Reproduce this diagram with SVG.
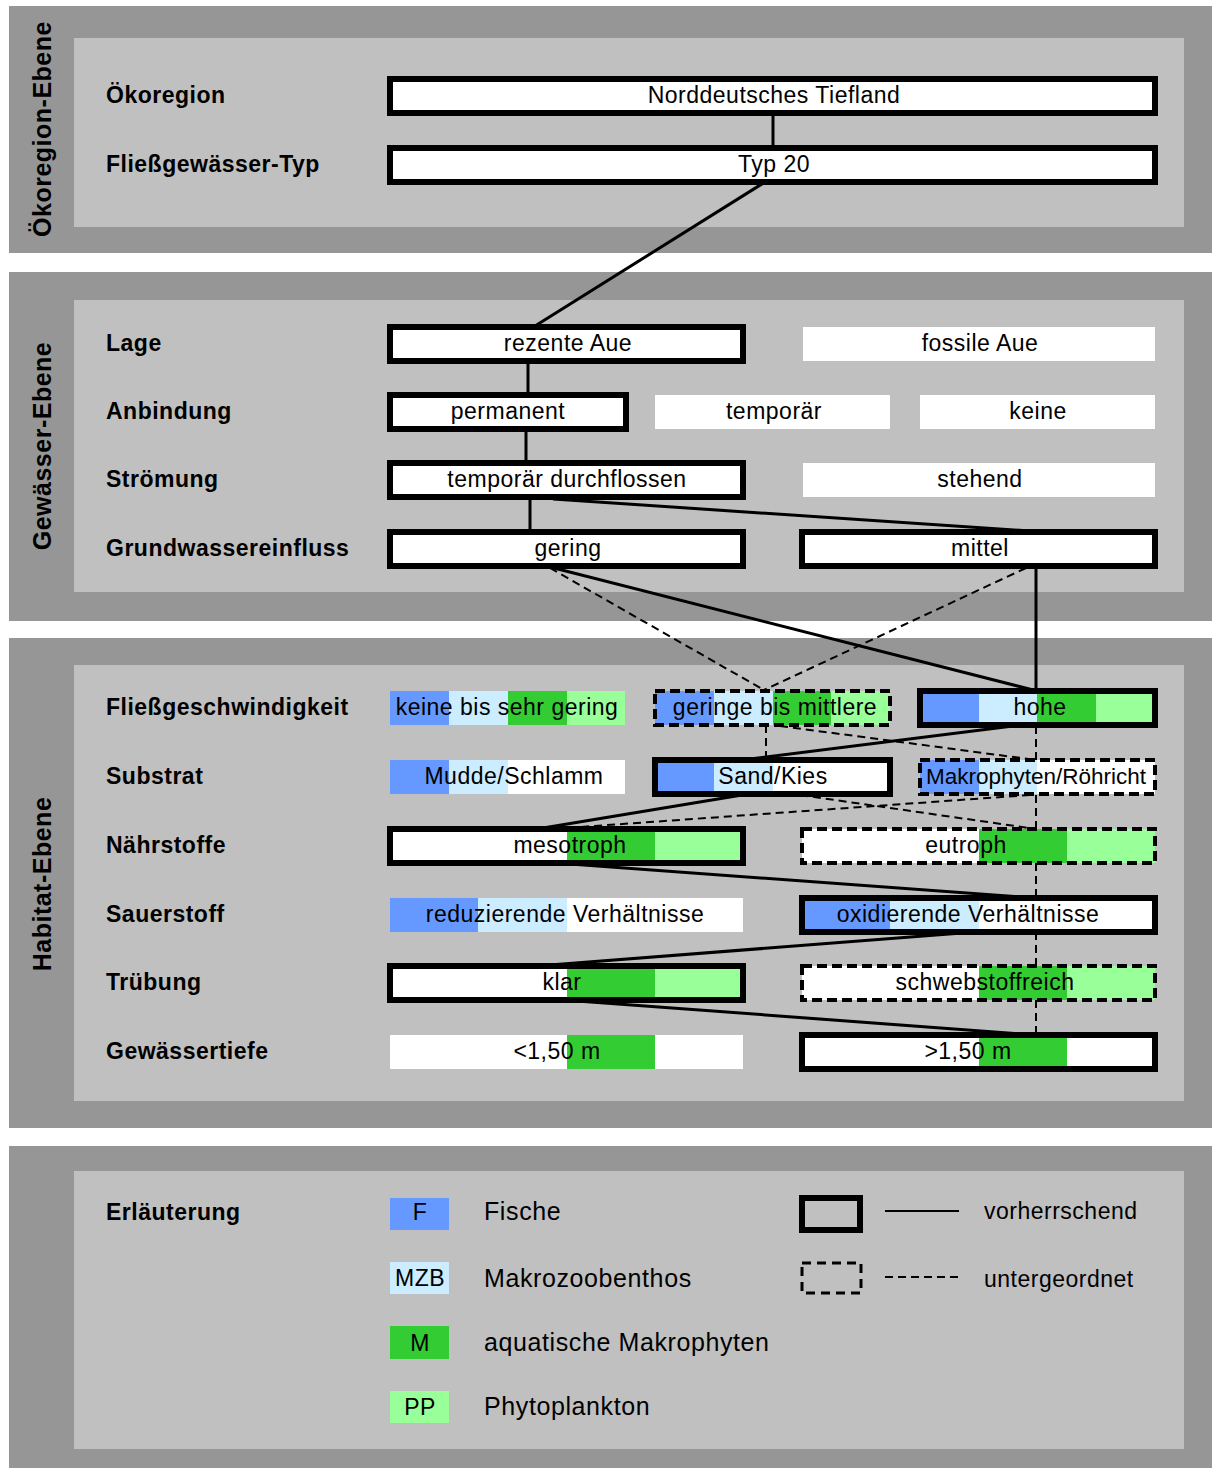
<svg xmlns="http://www.w3.org/2000/svg" width="1213" height="1470" viewBox="0 0 1213 1470">
<style>
.outer{fill:#969696}
.inner{fill:#c0c0c0}
.w{fill:#fff}
.F{fill:#6699ff}
.Z{fill:#ccecff}
.M{fill:#33cc33}
.P{fill:#99ff99}
.bd{fill:none;stroke:#000;stroke-width:6}
.bdd{fill:none;stroke:#000;stroke-width:4;stroke-dasharray:10 5}
.t{font-family:"Liberation Sans",Arial,sans-serif;font-size:23px;letter-spacing:0.5px;text-anchor:middle;fill:#000}
.lbl{font-family:"Liberation Sans",Arial,sans-serif;font-size:23px;font-weight:bold;letter-spacing:0.5px;fill:#000}
.lv{font-family:"Liberation Sans",Arial,sans-serif;font-size:25px;font-weight:bold;letter-spacing:0.5px;text-anchor:middle;fill:#000}
.lg{font-family:"Liberation Sans",Arial,sans-serif;font-size:25px;letter-spacing:0.6px;fill:#000}
.lt{font-family:"Liberation Sans",Arial,sans-serif;font-size:23px;letter-spacing:0.5px;fill:#000}
.c{stroke:#000;stroke-width:3;fill:none}
.cd{stroke:#000;stroke-width:2;stroke-dasharray:8 5;fill:none}
</style>

<g id="panels">
  <rect class="outer" x="9" y="6" width="1203" height="247"/>
  <rect class="inner" x="74" y="38" width="1110" height="189"/>
  <rect class="outer" x="9" y="272" width="1203" height="349"/>
  <rect class="inner" x="74" y="300" width="1110" height="292"/>
  <rect class="outer" x="9" y="638" width="1203" height="490"/>
  <rect class="inner" x="74" y="665" width="1110" height="436"/>
  <rect class="outer" x="9" y="1146" width="1203" height="322"/>
  <rect class="inner" x="74" y="1171" width="1110" height="278"/>
  <text class="lv" transform="translate(51,129) rotate(-90)">Ökoregion-Ebene</text>
  <text class="lv" transform="translate(51,446) rotate(-90)">Gewässer-Ebene</text>
  <text class="lv" transform="translate(51,884) rotate(-90)">Habitat-Ebene</text>
</g>

<g id="row-labels">
  <text class="lbl" x="106" y="103">Ökoregion</text>
  <text class="lbl" x="106" y="172">Fließgewässer-Typ</text>
  <text class="lbl" x="106" y="351">Lage</text>
  <text class="lbl" x="106" y="419">Anbindung</text>
  <text class="lbl" x="106" y="487">Strömung</text>
  <text class="lbl" x="106" y="556">Grundwassereinfluss</text>
  <text class="lbl" x="106" y="715">Fließgeschwindigkeit</text>
  <text class="lbl" x="106" y="784">Substrat</text>
  <text class="lbl" x="106" y="853">Nährstoffe</text>
  <text class="lbl" x="106" y="922">Sauerstoff</text>
  <text class="lbl" x="106" y="990">Trübung</text>
  <text class="lbl" x="106" y="1059">Gewässertiefe</text>
  <text class="lbl" x="106" y="1220">Erläuterung</text>
</g>

<g id="connectors">
  <line class="c" x1="773" y1="113" x2="773" y2="148"/>
  <line class="c" x1="765" y1="182" x2="535" y2="326"/>
  <line class="c" x1="528" y1="360" x2="528" y2="395"/>
  <line class="c" x1="526" y1="429" x2="526" y2="463"/>
  <line class="c" x1="530" y1="497" x2="530" y2="532"/>
  <line class="c" x1="553" y1="499" x2="1030" y2="531"/>
  <line class="c" x1="550" y1="567" x2="1037" y2="691"/>
  <line class="c" x1="1036" y1="566" x2="1036" y2="691"/>
  <line class="c" x1="1013" y1="726" x2="742" y2="760"/>
  <line class="c" x1="742" y1="795" x2="537" y2="829"/>
  <line class="c" x1="570" y1="864" x2="1036" y2="898"/>
  <line class="c" x1="975" y1="932" x2="537" y2="966"/>
  <line class="c" x1="577" y1="1001" x2="1036" y2="1035"/>
  <line class="cd" x1="550" y1="568" x2="764" y2="690"/>
  <line class="cd" x1="1026" y1="568" x2="764" y2="690"/>
  <line class="cd" x1="766" y1="725" x2="766" y2="760"/>
  <line class="cd" x1="780" y1="726" x2="1036" y2="760"/>
  <line class="cd" x1="1036" y1="726" x2="1036" y2="760"/>
  <line class="cd" x1="800" y1="795" x2="1036" y2="829"/>
  <line class="cd" x1="1030" y1="795" x2="552" y2="829"/>
  <line class="cd" x1="1036" y1="795" x2="1036" y2="829"/>
  <line class="cd" x1="1036" y1="863" x2="1036" y2="898"/>
  <line class="cd" x1="1036" y1="932" x2="1036" y2="966"/>
  <line class="cd" x1="1036" y1="1000" x2="1036" y2="1035"/>
</g>

<g id="n-norddeutsches-tiefland"><rect class="w" x="390" y="79" width="765" height="34"/><rect class="bd" x="390" y="79" width="765" height="34"/><text class="t" x="774" y="103">Norddeutsches Tiefland</text></g>
<g id="n-typ20"><rect class="w" x="390" y="148" width="765" height="34"/><rect class="bd" x="390" y="148" width="765" height="34"/><text class="t" x="774" y="172">Typ 20</text></g>

<g id="n-rezente-aue"><rect class="w" x="390" y="327" width="353" height="34"/><rect class="bd" x="390" y="327" width="353" height="34"/><text class="t" x="568" y="351">rezente Aue</text></g>
<g id="n-fossile-aue"><rect class="w" x="803" y="327" width="352" height="34"/><text class="t" x="980" y="351">fossile Aue</text></g>
<g id="n-permanent"><rect class="w" x="390" y="395" width="236" height="34"/><rect class="bd" x="390" y="395" width="236" height="34"/><text class="t" x="508" y="419">permanent</text></g>
<g id="n-temporaer"><rect class="w" x="655" y="395" width="235" height="34"/><text class="t" x="774" y="419">temporär</text></g>
<g id="n-keine"><rect class="w" x="920" y="395" width="235" height="34"/><text class="t" x="1038" y="419">keine</text></g>
<g id="n-temporaer-durchflossen"><rect class="w" x="390" y="463" width="353" height="34"/><rect class="bd" x="390" y="463" width="353" height="34"/><text class="t" x="567" y="487">temporär durchflossen</text></g>
<g id="n-stehend"><rect class="w" x="803" y="463" width="352" height="34"/><text class="t" x="980" y="487">stehend</text></g>
<g id="n-gering"><rect class="w" x="390" y="532" width="353" height="34"/><rect class="bd" x="390" y="532" width="353" height="34"/><text class="t" x="568" y="556">gering</text></g>
<g id="n-mittel"><rect class="w" x="802" y="532" width="353" height="34"/><rect class="bd" x="802" y="532" width="353" height="34"/><text class="t" x="980" y="556">mittel</text></g>

<g id="n-keine-bis-sehr-gering"><rect class="F" x="390" y="691" width="59" height="34"/><rect class="Z" x="449" y="691" width="59" height="34"/><rect class="M" x="508" y="691" width="59" height="34"/><rect class="P" x="567" y="691" width="58" height="34"/><text class="t" x="507" y="715">keine bis sehr gering</text></g>
<g id="n-geringe-bis-mittlere"><rect class="F" x="655" y="691" width="59" height="34"/><rect class="Z" x="714" y="691" width="59" height="34"/><rect class="M" x="773" y="691" width="58" height="34"/><rect class="P" x="831" y="691" width="59" height="34"/><rect class="bdd" x="655" y="691" width="235" height="34"/><text class="t" x="775" y="715">geringe bis mittlere</text></g>
<g id="n-hohe"><rect class="F" x="920" y="691" width="59" height="34"/><rect class="Z" x="979" y="691" width="58" height="34"/><rect class="M" x="1037" y="691" width="59" height="34"/><rect class="P" x="1096" y="691" width="59" height="34"/><rect class="bd" x="920" y="691" width="235" height="34"/><text class="t" x="1040" y="715">hohe</text></g>

<g id="n-mudde-schlamm"><rect class="F" x="390" y="760" width="59" height="34"/><rect class="Z" x="449" y="760" width="59" height="34"/><rect class="w" x="508" y="760" width="117" height="34"/><text class="t" x="514" y="784">Mudde/Schlamm</text></g>
<g id="n-sand-kies"><rect class="F" x="655" y="760" width="59" height="34"/><rect class="Z" x="714" y="760" width="59" height="34"/><rect class="w" x="773" y="760" width="117" height="34"/><rect class="bd" x="655" y="760" width="235" height="34"/><text class="t" x="773" y="784">Sand/Kies</text></g>
<g id="n-makrophyten-roehricht"><rect class="F" x="920" y="760" width="59" height="34"/><rect class="Z" x="979" y="760" width="58" height="34"/><rect class="w" x="1037" y="760" width="118" height="34"/><rect class="bdd" x="920" y="760" width="235" height="34"/><text class="t" x="1036" y="784" style="font-size:22.5px;letter-spacing:0">Makrophyten/Röhricht</text></g>

<g id="n-mesotroph"><rect class="w" x="390" y="829" width="177" height="34"/><rect class="M" x="567" y="829" width="88" height="34"/><rect class="P" x="655" y="829" width="88" height="34"/><rect class="bd" x="390" y="829" width="353" height="34"/><text class="t" x="570" y="853">mesotroph</text></g>
<g id="n-eutroph"><rect class="w" x="802" y="829" width="177" height="34"/><rect class="M" x="979" y="829" width="88" height="34"/><rect class="P" x="1067" y="829" width="88" height="34"/><rect class="bdd" x="802" y="829" width="353" height="34"/><text class="t" x="966" y="853">eutroph</text></g>

<g id="n-reduzierende"><rect class="F" x="390" y="898" width="88" height="34"/><rect class="Z" x="478" y="898" width="89" height="34"/><rect class="w" x="567" y="898" width="176" height="34"/><text class="t" x="565" y="922">reduzierende Verhältnisse</text></g>
<g id="n-oxidierende"><rect class="F" x="802" y="898" width="88" height="34"/><rect class="Z" x="890" y="898" width="89" height="34"/><rect class="w" x="979" y="898" width="176" height="34"/><rect class="bd" x="802" y="898" width="353" height="34"/><text class="t" x="968" y="922">oxidierende Verhältnisse</text></g>

<g id="n-klar"><rect class="w" x="390" y="966" width="177" height="34"/><rect class="M" x="567" y="966" width="88" height="34"/><rect class="P" x="655" y="966" width="88" height="34"/><rect class="bd" x="390" y="966" width="353" height="34"/><text class="t" x="562" y="990">klar</text></g>
<g id="n-schwebstoffreich"><rect class="w" x="802" y="966" width="177" height="34"/><rect class="M" x="979" y="966" width="88" height="34"/><rect class="P" x="1067" y="966" width="88" height="34"/><rect class="bdd" x="802" y="966" width="353" height="34"/><text class="t" x="985" y="990">schwebstoffreich</text></g>

<g id="n-tiefe-klein"><rect class="w" x="390" y="1035" width="353" height="34"/><rect class="M" x="567" y="1035" width="88" height="34"/><text class="t" x="557" y="1059">&lt;1,50 m</text></g>
<g id="n-tiefe-gross"><rect class="w" x="802" y="1035" width="353" height="34"/><rect class="M" x="979" y="1035" width="88" height="34"/><rect class="bd" x="802" y="1035" width="353" height="34"/><text class="t" x="968" y="1059">&gt;1,50 m</text></g>

<g id="legend">
  <rect class="F" x="390" y="1198" width="59" height="32"/><text class="t" x="420" y="1220">F</text>
  <text class="lg" x="484" y="1220">Fische</text>
  <rect class="Z" x="390" y="1262" width="59" height="32"/><text class="t" x="420" y="1286">MZB</text>
  <text class="lg" x="484" y="1287">Makrozoobenthos</text>
  <rect class="M" x="390" y="1326" width="59" height="33"/><text class="t" x="420" y="1351">M</text>
  <text class="lg" x="484" y="1351">aquatische Makrophyten</text>
  <rect class="P" x="390" y="1391" width="59" height="32"/><text class="t" x="420" y="1415">PP</text>
  <text class="lg" x="484" y="1415">Phytoplankton</text>
  <rect class="bd" x="802" y="1198" width="58" height="32"/>
  <line x1="885" y1="1211" x2="959" y2="1211" stroke="#000" stroke-width="2"/>
  <text class="lt" x="984" y="1219">vorherrschend</text>
  <rect x="802" y="1263" width="59" height="30" fill="none" stroke="#000" stroke-width="3" stroke-dasharray="9 6"/>
  <line x1="885" y1="1277" x2="959" y2="1277" stroke="#000" stroke-width="2" stroke-dasharray="8 5"/>
  <text class="lt" x="984" y="1287">untergeordnet</text>
</g>
</svg>
